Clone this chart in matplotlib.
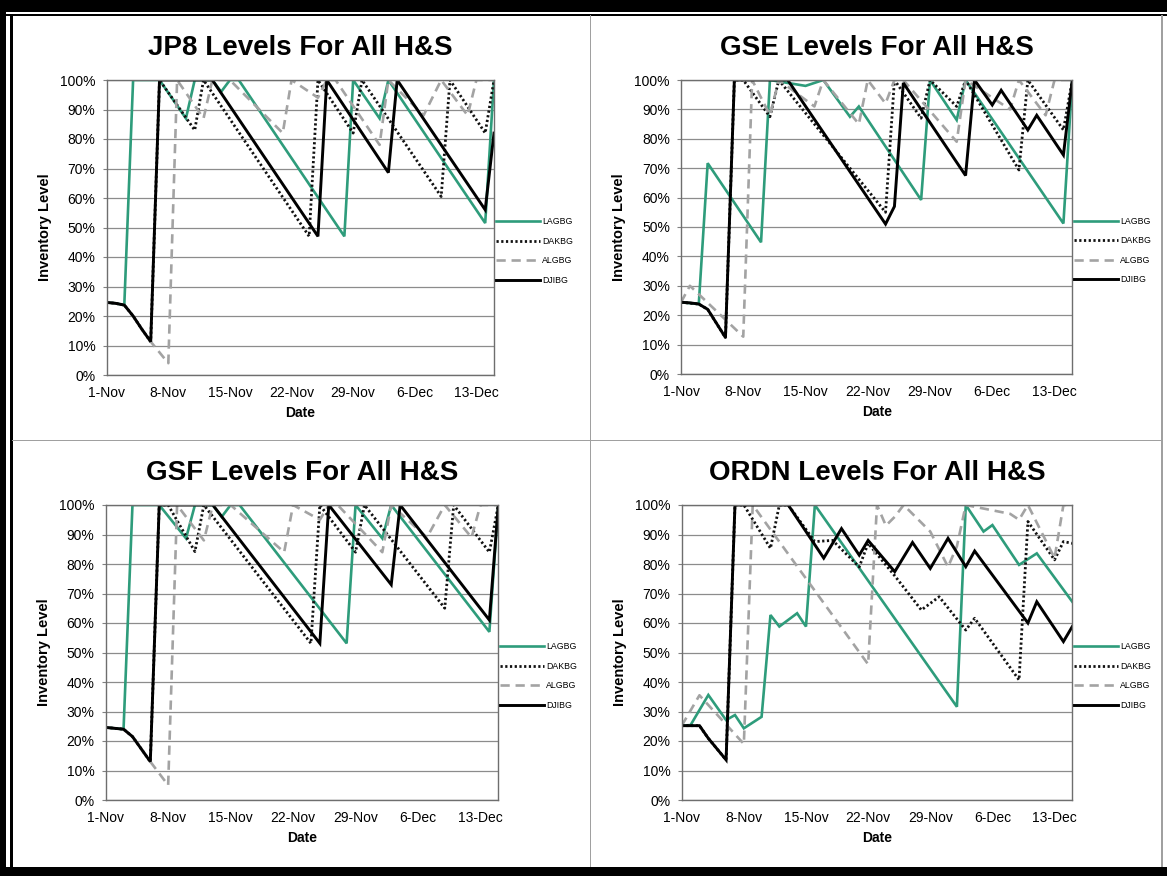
import matplotlib
matplotlib.use("Agg")
import matplotlib.pyplot as plt
from matplotlib.lines import Line2D
from matplotlib.patches import Rectangle
from matplotlib.ticker import FuncFormatter, MultipleLocator

plt.rcParams["font.family"] = ["Liberation Sans", "DejaVu Sans"]

# Jours depuis le 1-Nov, niveau de stock en %
SERIES = ["LAGBG", "DAKBG", "ALGBG", "DJIBG"]
TICK_DAYS = [0, 7, 14, 21, 28, 35, 42]
TICK_LABELS = ["1-Nov", "8-Nov", "15-Nov", "22-Nov", "29-Nov", "6-Dec", "13-Dec"]

JP8_LAGBG = [(0, 24.6), (1, 24.3), (2, 23.7), (3, 100), (6, 100), (9, 87), (10, 100), (12, 100),
             (13, 96), (14, 100), (15, 100), (27, 47), (28, 100), (31, 87), (32, 100), (43, 51.5), (44, 100)]
JP8_DAKBG = [(0, 24.6), (1, 24.3), (2, 23.7), (3, 20), (4, 15.5), (5, 11.3), (6, 100), (10, 83), (11, 100),
             (23, 47), (24, 100), (28, 82), (29, 100), (38, 60.5), (39, 100), (43, 82), (44, 100)]
JP8_ALGBG = [(0, 24.6), (1, 24.3), (2, 23.7), (3, 20), (4, 15.5), (5, 11.3), (7, 4), (8, 100), (11, 87),
             (12, 100), (14, 100), (20, 82), (21, 100), (24, 94), (25, 100), (26, 100), (31, 78),
             (32, 100), (36, 88), (38, 100), (41, 88), (42, 100), (44, 100)]
JP8_DJIBG = [(0, 24.6), (1, 24.3), (2, 23.7), (3, 20), (4, 15.5), (5, 11.3), (6, 100), (12, 100), (24, 47),
             (25, 100), (32, 68.6), (33, 100), (43, 56), (44, 82)]

GSE_LAGBG = [(0, 24.4), (2, 23.8), (3, 71.7), (9, 44.8), (10, 100), (14, 98), (16, 100), (19, 87.5),
             (20, 91), (27, 59.2), (28, 100), (31, 86.4), (32, 100), (43, 51.2), (44, 100)]
GSE_DAKBG = [(0, 24.4), (2, 23.8), (3, 22), (5, 12.4), (6, 100), (7, 100), (10, 87.5), (11, 100),
             (23, 55), (24, 100), (27, 87), (28, 100), (31, 91), (32, 100), (38, 69.4), (39, 100),
             (43, 83), (44, 100)]
GSE_ALGBG = [(0, 24.4), (1, 30), (7, 12.7), (8, 100), (10, 88), (11, 100), (15, 91), (16, 100),
             (20, 85), (21, 100), (23, 92), (24, 100), (25, 100), (31, 79), (32, 100), (37, 90),
             (38, 100), (41, 88), (42, 100), (44, 100)]
GSE_DJIBG = [(0, 24.4), (1, 24.2), (2, 23.8), (3, 22), (5, 12.4), (6, 100), (12, 100), (23, 51), (24, 57),
             (25, 99), (32, 67.5), (33, 100), (35, 91.5), (36, 96.5), (39, 83), (40, 88), (43, 74.5),
             (44, 100)]

GSF_LAGBG = [(0, 24.6), (2, 24), (3, 100), (6, 100), (9, 88.7), (10, 100), (12, 100), (13, 96), (14, 100),
             (15, 100), (27, 53.1), (28, 100), (31, 88.7), (32, 100), (43, 57), (44, 100)]
GSF_DAKBG = [(0, 24.6), (2, 24), (3, 21.5), (5, 13), (6, 100), (7, 100), (10, 84.2), (11, 100),
             (23, 53.1), (24, 100), (28, 84), (29, 100), (38, 65), (39, 100), (43, 84), (44, 100)]
GSF_ALGBG = [(0, 24.6), (2, 24), (3, 21.5), (5, 13), (7, 5), (8, 100), (11, 88), (12, 100), (14, 100),
             (20, 84), (21, 100), (24, 95), (25, 100), (26, 100), (31, 84), (32, 100), (36, 89),
             (38, 100), (41, 89), (42, 100), (44, 100)]
GSF_DJIBG = [(0, 24.6), (2, 24), (3, 21.5), (5, 13), (6, 100), (12, 100), (24, 53.1), (25, 100),
             (32, 73), (33, 100), (43, 61), (44, 100)]

ORDN_LAGBG = [(0, 25.2), (1, 25.4), (3, 35.6), (5, 27.1), (6, 28.8), (7, 24.3), (9, 28.2), (10, 62.7),
              (11, 58.8), (13, 63.3), (14, 58.8), (15, 100), (31, 31.6), (32, 100), (34, 91), (35, 93.2),
              (38, 79.7), (40, 83.6), (44, 67.2)]
ORDN_DAKBG = [(0, 25.2), (2, 25.2), (3, 20.9), (5, 13.6), (6, 100), (7, 100), (10, 85.3), (11, 100),
              (12, 100), (15, 87.6), (17, 88), (20, 79), (21, 87), (24, 76), (27, 64.4), (29, 68.9),
              (32, 57.6), (33, 61.6), (38, 40.7), (39, 94.4), (42, 81.4), (43, 87.6), (44, 87)]
ORDN_ALGBG = [(0, 25.2), (2, 35.5), (7, 19), (8, 100), (21, 46), (22, 100), (23, 93), (24, 96),
              (25, 100), (28, 91), (30, 79), (31, 86), (32, 100), (37, 97), (38, 95), (39, 100),
              (42, 82), (43, 100), (44, 100)]
ORDN_DJIBG = [(0, 25.2), (2, 25.2), (3, 20.9), (5, 13.6), (6, 100), (12, 100), (16, 82), (18, 92),
              (20, 83), (21, 88), (24, 77.4), (26, 87.3), (28, 78.5), (30, 88.7), (32, 79.1), (33, 84.4),
              (39, 60), (40, 67.2), (43, 53.7), (44, 58.8)]

PANELS = [
    ("JP8 Levels For All H&S", [JP8_LAGBG, JP8_DAKBG, JP8_ALGBG, JP8_DJIBG]),
    ("GSE Levels For All H&S", [GSE_LAGBG, GSE_DAKBG, GSE_ALGBG, GSE_DJIBG]),
    ("GSF Levels For All H&S", [GSF_LAGBG, GSF_DAKBG, GSF_ALGBG, GSF_DJIBG]),
    ("ORDN Levels For All H&S", [ORDN_LAGBG, ORDN_DAKBG, ORDN_ALGBG, ORDN_DJIBG]),
]

# styles : LAGBG vert, DAKBG pointille noir, ALGBG tirets gris, DJIBG noir
STYLES = [
    dict(color="#2E9C7B", lw=1.9, ls="-"),
    dict(color="#111111", lw=2.0, ls=(0, (0.8, 0.9)), dash_capstyle="butt"),
    dict(color="#A3A3A3", lw=1.9, ls=(0, (3.5, 2.2))),
    dict(color="#000000", lw=2.1, ls="-"),
]

W, H = 1167, 876
# boites des graphiques en pixels : gauche, haut, droite, bas
BOXES = [(106.7, 80, 494, 375), (681, 80, 1072.3, 374),
         (105.7, 505, 498.3, 800), (681.7, 505, 1072.3, 800)]

fig = plt.figure(figsize=(W / 100, H / 100), dpi=100)
pct = FuncFormatter(lambda v, p: f"{v:.0f}%")


def px_rect(x0, y0, x1, y1, color):
    # rectangle en pixels (origine en haut a gauche)
    fig.add_artist(Rectangle((x0 / W, 1 - y1 / H), (x1 - x0) / W, (y1 - y0) / H,
                             transform=fig.transFigure, facecolor=color, edgecolor="none"))


for (title, data), (l, t, r, b) in zip(PANELS, BOXES):
    ax = fig.add_axes([l / W, 1 - b / H, (r - l) / W, (b - t) / H])
    for serie, style in zip(data, STYLES):
        xs = [p[0] for p in serie]
        ys = [p[1] for p in serie]
        ax.plot(xs, ys, solid_joinstyle="miter", **style)
    ax.set_xlim(0, 44)
    ax.set_ylim(0, 100)
    ax.yaxis.set_major_locator(MultipleLocator(10))
    ax.yaxis.set_major_formatter(pct)
    ax.set_xticks(TICK_DAYS)
    ax.set_xticklabels(TICK_LABELS)
    ax.grid(axis="y", color="#8C8C8C", lw=0.9)
    ax.set_axisbelow(True)
    ax.tick_params(axis="y", labelsize=10, length=3, pad=5, color="#808080")
    ax.tick_params(axis="x", labelsize=10, length=0, pad=8)
    for s in ax.spines.values():
        s.set_color("#6E6E6E")
        s.set_linewidth(1.0)
    ax.set_title(title, fontsize=20, fontweight="bold", pad=18)
    ax.set_xlabel("Date", fontsize=10, fontweight="bold", labelpad=4)
    ax.set_ylabel("Inventory Level", fontsize=10.5, fontweight="bold", labelpad=6)

    handles = [Line2D([], [], **st) for st in STYLES]
    ax.legend(handles, SERIES, loc="center left", bbox_to_anchor=(1.0, 0.42), frameon=False,
              fontsize=6.3, handlelength=5.0, handletextpad=0.3, labelspacing=1.2,
              borderaxespad=0.0, borderpad=0.2)

# cadre noir et separateurs gris
px_rect(0, 0, W, 12, "black")
px_rect(0, 14, W, 15.5, "black")
px_rect(0, 0, 6, H, "black")
px_rect(10, 14, 12.5, 868, "black")
px_rect(0, 867, W, H, "black")
px_rect(1161, 15, 1162.5, 867, "#A0A0A0")
px_rect(589.5, 15, 591, 867, "#A0A0A0")
px_rect(12, 439.5, 1161, 441, "#A0A0A0")

fig.savefig("out.png", dpi=100)
